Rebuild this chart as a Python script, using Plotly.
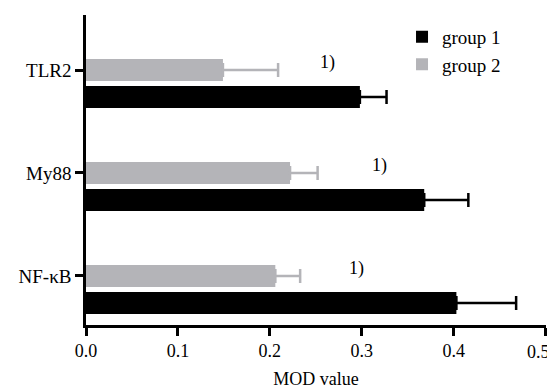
import plotly.graph_objects as go

categories = ["NF-κB", "My88", "TLR2"]
group1 = [0.403, 0.368, 0.298]
group1_err = [0.065, 0.048, 0.029]
group2 = [0.206, 0.222, 0.149]
group2_err = [0.027, 0.030, 0.060]
sig_x = [0.294, 0.319, 0.2625]
sig_label = "1)"
x_ticks = [0.0, 0.1, 0.2, 0.3, 0.4, 0.5]
x_ticklabels = ["0.0", "0.1", "0.2", "0.3", "0.4", "0.5"]

FONT = "Liberation Serif"
GRAY = "#b4b4b8"
BAR_W = 0.214
SHIFT = 0.262

fig = go.Figure()
fig.add_trace(go.Bar(
    y=categories, x=group1, orientation="h", name="group 1", legendgroup="g1",
    marker=dict(color="black", line=dict(width=0)),
    width=BAR_W, offset=-BAR_W / 2 - SHIFT,
    error_x=dict(type="data", array=group1_err, arrayminus=[0] * 3, symmetric=False,
                 color="black", thickness=2.5, width=7),
))
fig.add_trace(go.Bar(
    y=categories, x=group2, orientation="h", name="group 2", legendgroup="g2",
    marker=dict(color=GRAY, line=dict(width=0)),
    width=BAR_W, offset=-BAR_W / 2,
    error_x=dict(type="data", array=group2_err, arrayminus=[0] * 3, symmetric=False,
                 color=GRAY, thickness=2.5, width=7),
))

for i, xv in enumerate(sig_x):
    fig.add_annotation(x=xv, y=i + 0.075, text=sig_label, showarrow=False,
                       font=dict(family=FONT, size=18, color="black"))

# last tick label sits at the right edge: drawn as text shifted slightly left so it stays visible
fig.add_annotation(x=x_ticks[-1], y=0, yref="paper", text=x_ticklabels[-1], showarrow=False,
                   xanchor="center", yanchor="middle", xshift=-7, yshift=-27,
                   font=dict(family=FONT, size=18, color="black"))

fig.update_layout(
    width=547, height=381,
    margin=dict(l=78, r=9, t=7, b=64),
    paper_bgcolor="white", plot_bgcolor="white",
    barmode="overlay",
    font=dict(family=FONT, size=18, color="black"),
    legend=dict(x=0.687, y=0.991, xanchor="left", yanchor="top",
                font=dict(family=FONT, size=19), traceorder="normal",
                itemwidth=30, tracegroupgap=5),
    xaxis=dict(range=[0, 0.5005], tickvals=x_ticks, ticktext=x_ticklabels[:-1] + [""],
               automargin=False,
               showline=True, linecolor="black", linewidth=2.5,
               ticks="outside", ticklen=8, tickwidth=2.5, tickcolor="black",
               showgrid=False, zeroline=False,
               tickfont=dict(family=FONT, size=18),
               title=dict(text="MOD value", font=dict(family=FONT, size=18), standoff=13)),
    yaxis=dict(type="category", categoryorder="array", categoryarray=categories,
               range=[-0.476, 2.534], automargin=False,
               showline=True, linecolor="black", linewidth=2.5,
               ticks="outside", ticklen=8, tickwidth=2.5, tickcolor="black",
               showgrid=False, zeroline=False,
               tickfont=dict(family=FONT, size=19)),
)

fig.write_html("out.html")
